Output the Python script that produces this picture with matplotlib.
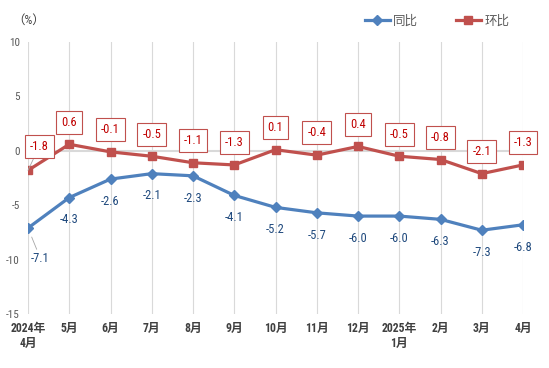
import matplotlib
matplotlib.use("Agg")
import matplotlib.pyplot as plt

FAM = ['Roboto Condensed', 'Noto Sans CJK SC', 'DejaVu Sans']
plt.rcParams['font.family'] = FAM

categories = ["2024年\n4月", "5月", "6月", "7月", "8月", "9月", "10月", "11月", "12月",
              "2025年\n1月", "2月", "3月", "4月"]
yoy = [-7.1, -4.3, -2.6, -2.1, -2.3, -4.1, -5.2, -5.7, -6.0, -6.0, -6.3, -7.3, -6.8]
mom = [-1.8, 0.6, -0.1, -0.5, -1.1, -1.3, 0.1, -0.4, 0.4, -0.5, -0.8, -2.1, -1.3]
yticks = [10, 5, 0, -5, -10, -15]

blue = '#4F81BD'
red = '#C0504D'

fig = plt.figure(figsize=(5.49, 3.68), dpi=100)
ax = fig.add_axes([28/549, 54/368, (523-28)/549, (314-42)/368])
x = list(range(len(categories)))

for xi in x:
    ax.axvline(xi, color='#D9D9D9', lw=0.8, zorder=0)
ax.axhline(0, color='#D9D9D9', lw=1.5, zorder=0)

ax.plot(x, yoy, color=blue, lw=2.3, marker='D', ms=5, label='同比', zorder=3)
ax.plot(x, mom, color=red, lw=2.3, marker='s', ms=6, label='环比', zorder=3)

box = dict(boxstyle='square,pad=0.4', fc='white', ec=red, lw=0.8)
for i, v in enumerate(mom):
    if i == 0:
        ax.annotate(f"{v:.1f}", (i, v), xytext=(8, 17), textcoords='offset points',
                    ha='center', va='center', fontsize=9, color='#C00000', bbox=box,
                    arrowprops=dict(arrowstyle='-', color='#A6A6A6', lw=0.6, shrinkA=0, shrinkB=0),
                    zorder=5)
    else:
        ax.annotate(f"{v:.1f}", (i, v), xytext=(0, 16), textcoords='offset points',
                    ha='center', va='center', fontsize=9, color='#C00000', bbox=box,
                    zorder=5)

for i, v in enumerate(yoy):
    if i == 0:
        ax.annotate(f"{v:.1f}", (i, v), xytext=(9, -22), textcoords='offset points',
                    ha='center', va='center', fontsize=9, color='#1F497D',
                    arrowprops=dict(arrowstyle='-', color='#A6A6A6', lw=0.6, shrinkA=0, shrinkB=7),
                    zorder=5)
    else:
        ax.annotate(f"{v:.1f}", (i, v), xytext=(0, -16), textcoords='offset points',
                    ha='center', va='center', fontsize=9, color='#1F497D', zorder=5)

ax.set_xlim(0, 12)
ax.set_ylim(-15, 10)
ax.set_yticks(yticks)
ax.set_yticklabels([str(t) for t in yticks], fontsize=8, color='#595959')
ax.set_xticks(x)
ax.set_xticklabels(categories, fontsize=8.5, color='#404040', fontweight='bold', linespacing=1.2)
ax.tick_params(axis='x', length=0, pad=6)
ax.tick_params(axis='y', length=0, pad=6)
for s in ax.spines.values():
    s.set_visible(False)
ax.set_facecolor('none')

fig.text(12/549, 1 - 20/368, '（%）', fontsize=9, color='#404040', ha='left', va='center')

leg = fig.legend(loc='center', bbox_to_anchor=(437/549, 1 - 21/368), ncol=2, frameon=False,
                 fontsize=9, handlelength=2.0, columnspacing=3.0, handletextpad=0.3)
for t in leg.get_texts():
    t.set_color('#595959')

fig.savefig('out.png', dpi=100)
